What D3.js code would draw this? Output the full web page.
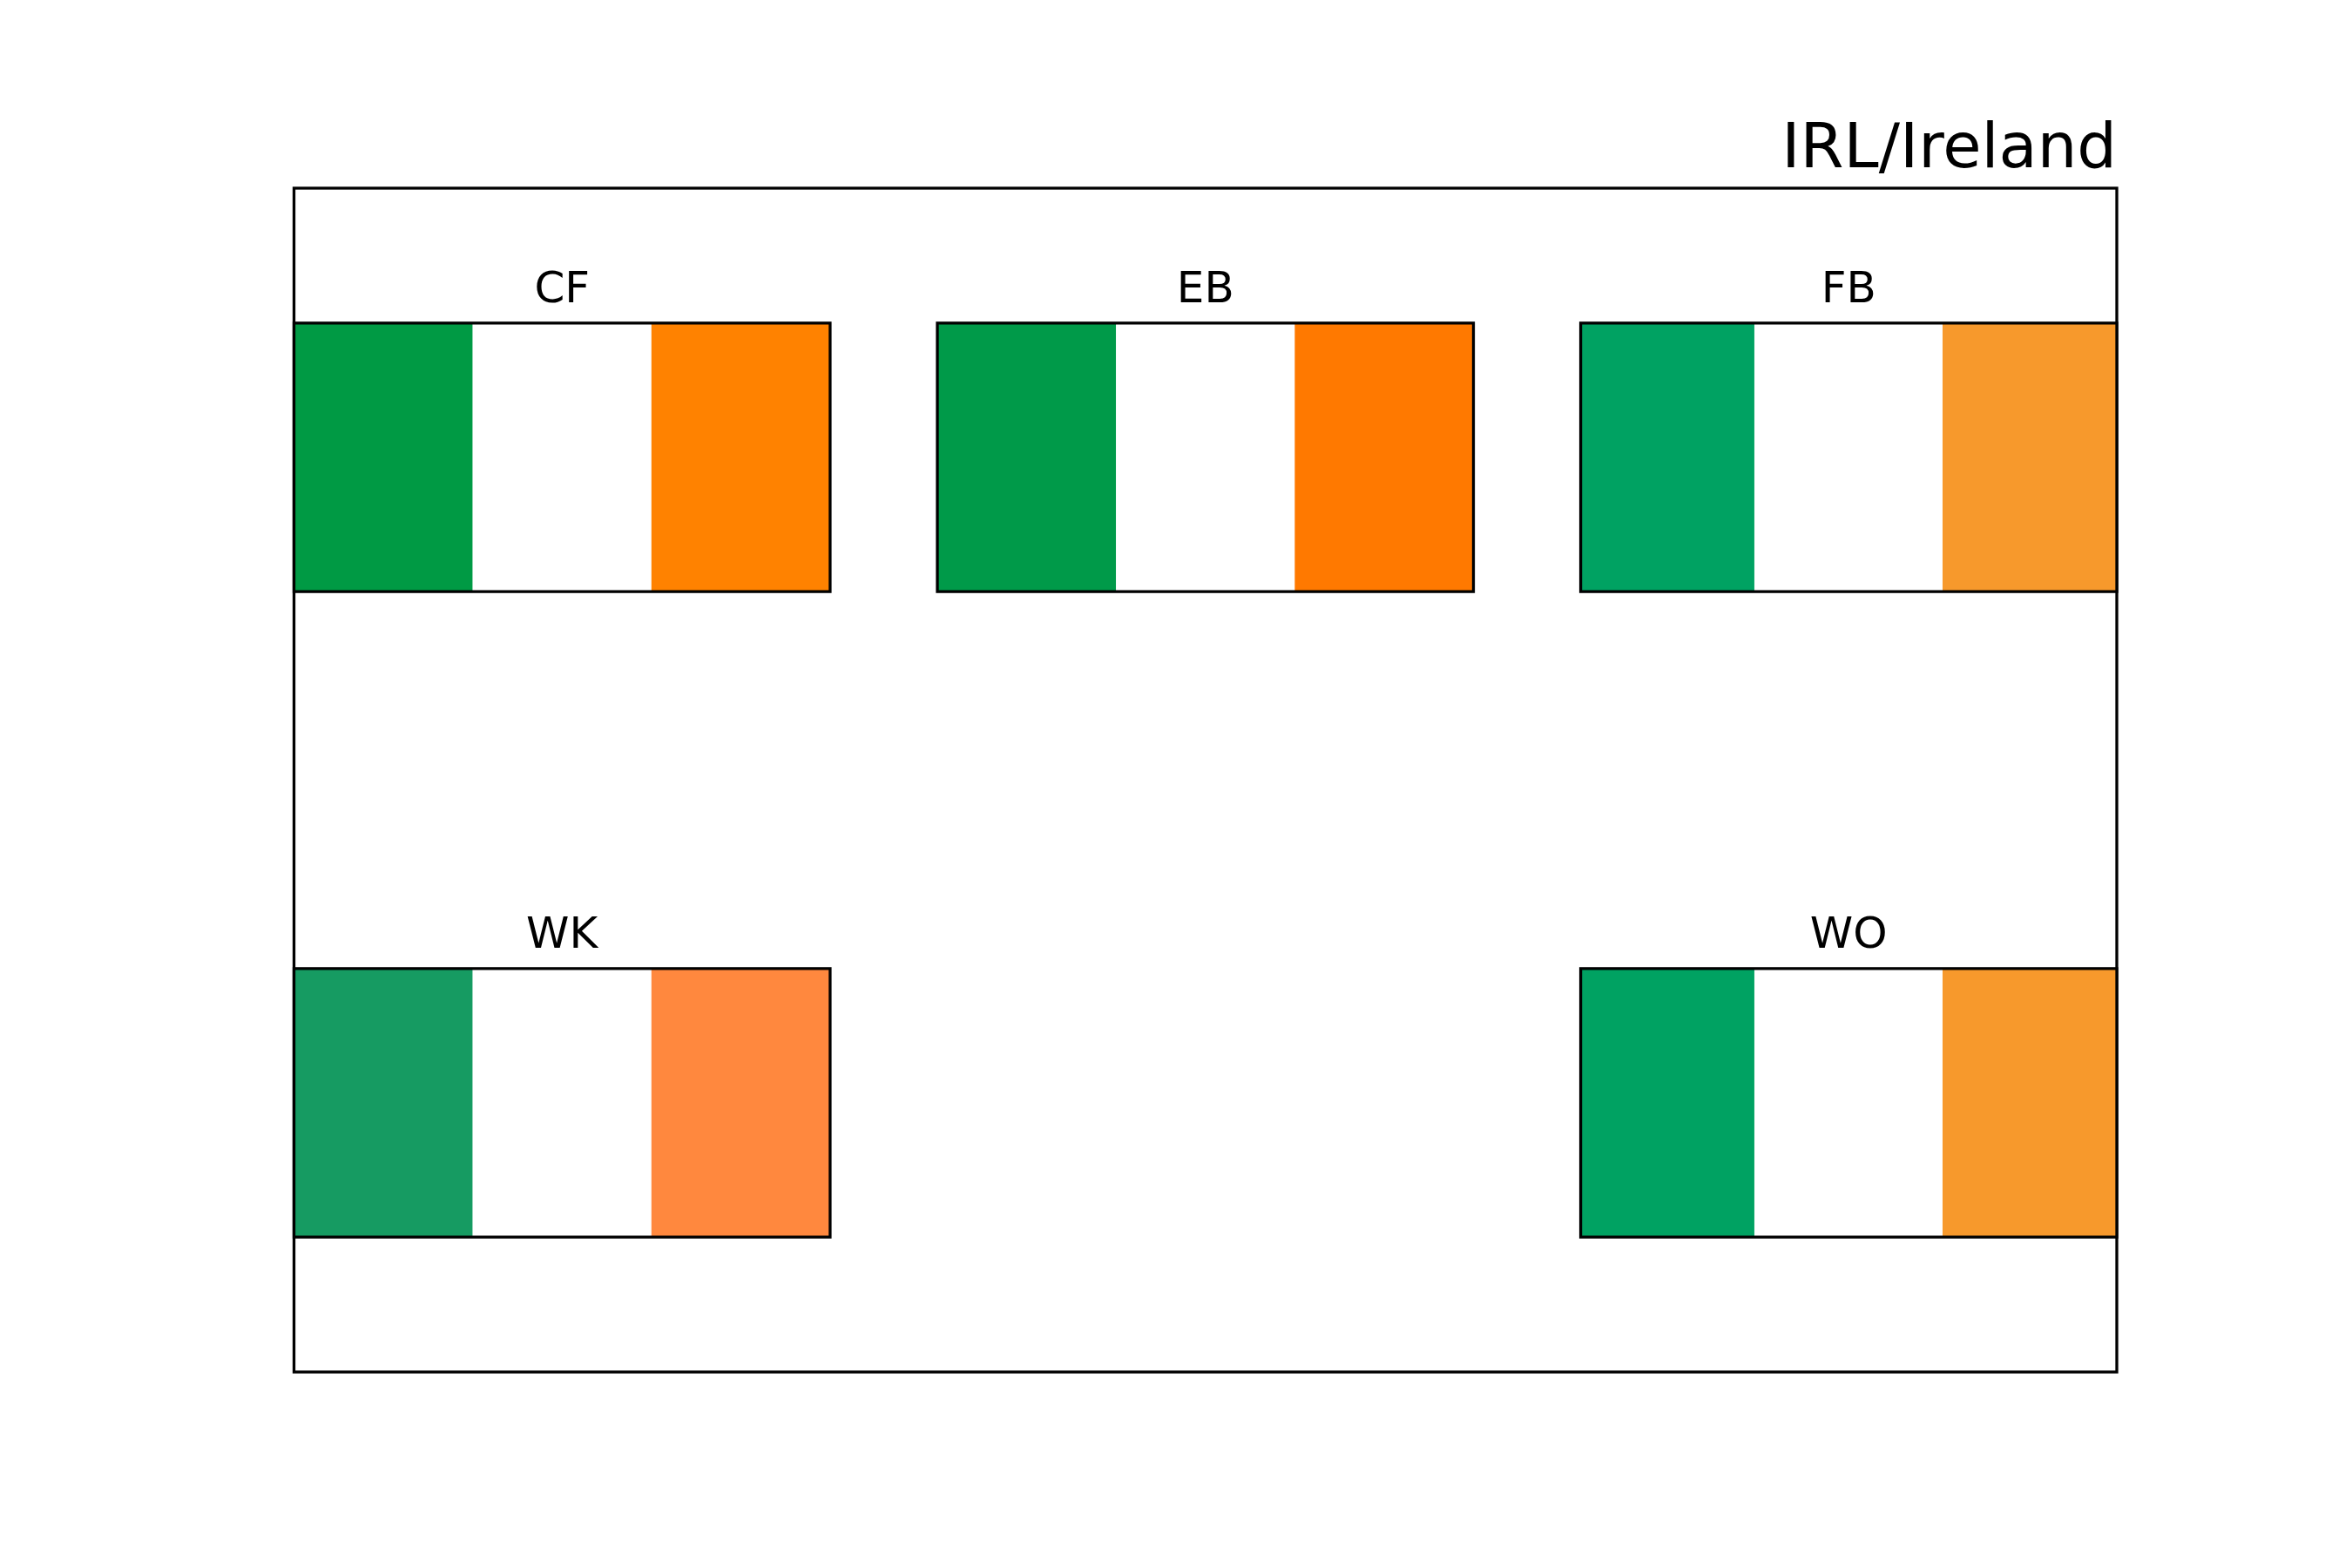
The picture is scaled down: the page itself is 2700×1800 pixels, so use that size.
<!DOCTYPE html>
<html>
<head>
<meta charset="utf-8">
<script src="https://cdn.jsdelivr.net/npm/d3@7"></script>
<style>
  body { margin: 0; background: #fff; }
  text { font-family: "DejaVu Sans", sans-serif; fill: #000; }
</style>
</head>
<body>
<div id="cont"></div>
<script>
// chart data
var title = "IRL/Ireland";
var codes = ["CF", "EB", "FB", "WK", "WO"];
var slotCol = [0, 1, 2, 0, 2];
var slotRow = [0, 0, 0, 1, 1];
var greens = ["#009a44", "#009a49", "#00a262", "#169b62", "#00a262"];
var whites = ["#ffffff", "#ffffff", "#ffffff", "#ffffff", "#ffffff"];
var oranges = ["#ff8200", "#ff7900", "#f7992c", "#ff883e", "#f7992c"];
// stripe widths as share of flag width (green, white, orange)
var stripeShares = [
  [1/3, 1/3, 1/3],
  [1/3, 1/3, 1/3],
  [0.324, 0.351, 0.325],
  [1/3, 1/3, 1/3],
  [0.324, 0.351, 0.325]
];

// set the dimensions and margins of the graph
var W = 2700, H = 1800;
var box = {left: 337.5, right: 2430, top: 216, bottom: 1575};

var svg = d3.select("#cont").append("svg")
    .attr("width", W)
    .attr("height", H);

svg.append("rect")
    .attr("width", W).attr("height", H)
    .attr("fill", "#fff");

// slots for the flags
var col = d3.scaleBand()
    .domain([0, 1, 2])
    .range([box.left, box.right])
    .paddingInner(1 / 6)
    .paddingOuter(0);

var row = d3.scaleBand()
    .domain([0, 1])
    .range([box.top, box.bottom])
    .paddingInner(0.584)
    .paddingOuter(0.209);

// outer frame
svg.append("rect")
    .attr("x", box.left)
    .attr("y", box.top)
    .attr("width", box.right - box.left)
    .attr("height", box.bottom - box.top)
    .attr("fill", "none")
    .attr("stroke", "#000")
    .attr("stroke-width", 3.3);

// title
svg.append("text")
    .attr("x", box.right)
    .attr("y", box.top - 24)
    .attr("text-anchor", "end")
    .style("font-size", "72px")
    .text(title);

var flags = codes.map(function(c, i) {
  return {code: c, col: slotCol[i], row: slotRow[i],
          colors: [greens[i], whites[i], oranges[i]],
          shares: stripeShares[i]};
});

var g = svg.selectAll("g.flag")
    .data(flags)
  .enter().append("g")
    .attr("class", "flag")
    .attr("transform", function(d) {
      return "translate(" + col(d.col) + "," + row(d.row) + ")";
    });

var fw = col.bandwidth(), fh = row.bandwidth();

// stripes
g.each(function(d) {
  var x = d3.scaleLinear().domain([0, 1]).range([0, fw]);
  var acc = 0;
  var stripes = d.shares.map(function(s, k) {
    var st = {x0: acc, x1: acc + s, color: d.colors[k]};
    acc += s;
    return st;
  });
  d3.select(this).selectAll("rect.stripe")
      .data(stripes)
    .enter().append("rect")
      .attr("class", "stripe")
      .attr("x", function(s) { return x(s.x0); })
      .attr("y", 0)
      .attr("width", function(s) { return x(s.x1) - x(s.x0); })
      .attr("height", fh)
      .attr("fill", function(s) { return s.color; });
});

// border
g.append("rect")
    .attr("width", fw)
    .attr("height", fh)
    .attr("fill", "none")
    .attr("stroke", "#000")
    .attr("stroke-width", 3.3);

// label
g.append("text")
    .attr("x", fw / 2)
    .attr("y", -24)
    .attr("text-anchor", "middle")
    .style("font-size", "50px")
    .text(function(d) { return d.code; });
</script>
</body>
</html>
